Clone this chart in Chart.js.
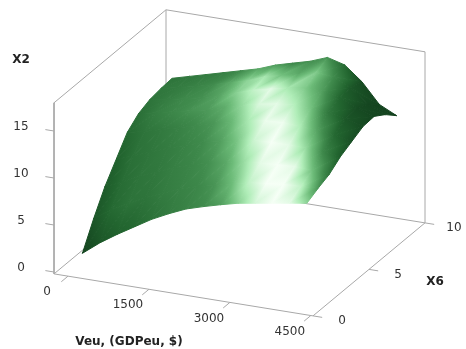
<!DOCTYPE html>
<html>
<head>
<meta charset="utf-8">
<style>
  html, body { margin: 0; background: #fff; }
  canvas { display: block; filter: blur(0.6px); }
</style>
<script src="https://cdn.jsdelivr.net/npm/chart.js@4"></script>
</head>
<body>
<canvas id="surface" width="466" height="349"></canvas>
<script>
// values
const veuGrid = [60, 380, 700, 1020, 1340, 1660, 1980, 2300, 2620, 2940, 3260, 3580, 3900, 4220];
const x6Grid = [1, 2, 3, 4, 5, 6, 7, 8, 9];
const x2Rows = [
  [1.3, 2.7, 3.9, 5.0, 6.1, 7.0, 7.8, 8.35, 8.85, 9.3, 9.6, 9.9, 10.2, 10.5],
  [4.0, 5.2, 6.2, 7.1, 7.9, 8.6, 9.2, 9.6, 10.1, 10.5, 10.7, 10.9, 11.0, 11.1],
  [6.4, 7.2, 8.1, 8.9, 9.6, 10.2, 10.7, 11.0, 11.4, 11.6, 11.7, 11.8, 11.7, 11.6],
  [8.3, 9.0, 9.7, 10.4, 11.0, 11.6, 12.0, 12.4, 12.7, 12.8, 12.8, 12.8, 12.7, 12.5],
  [10.2, 10.6, 11.1, 11.6, 12.1, 12.7, 13.1, 13.5, 13.8, 13.9, 13.8, 13.7, 13.5, 13.1],
  [11.2, 11.6, 12.0, 12.4, 12.8, 13.4, 13.9, 14.3, 14.6, 14.8, 14.8, 14.6, 14.2, 13.7],
  [11.7, 12.0, 12.4, 12.8, 13.3, 13.9, 14.5, 14.9, 15.3, 15.6, 15.6, 15.2, 14.4, 13.8],
  [11.9, 12.3, 12.7, 13.2, 13.7, 14.2, 14.9, 15.4, 15.9, 16.3, 16.1, 15.2, 13.8, 13.0],
  [12.0, 12.5, 13.0, 13.5, 14.0, 14.5, 15.2, 15.7, 16.2, 16.9, 16.4, 14.9, 12.8, 11.9]
];
const veuTicks = [0, 1500, 3000, 4500];
const x6Ticks = [0, 5, 10];
const x2Ticks = [0, 5, 10, 15];

// lighting of the surface at each grid vertex, 0 dark to 1 white, same layout as x2Rows
const shadeRows = [
  [.02, .12, .18, .22, .27, .32, .36, .40, .48, .68, .90, 1, .95, .70],
  [.12, .22, .27, .28, .32, .35, .38, .44, .60, .85, 1, 1, .85, .45],
  [.15, .24, .28, .30, .34, .37, .42, .52, .72, .95, 1, .95, .62, .28],
  [.18, .26, .29, .32, .36, .40, .48, .64, .88, 1, .95, .72, .38, .15],
  [.22, .28, .31, .35, .40, .45, .58, .78, .97, .98, .80, .50, .22, .08],
  [.25, .33, .38, .43, .46, .54, .72, .92, .95, .82, .62, .30, .12, .05],
  [.28, .33, .39, .42, .50, .68, .85, .95, .78, .66, .48, .20, .06, .03],
  [.30, .32, .36, .40, .52, .70, .78, .62, .52, .66, .40, .12, .03, .02],
  [.28, .30, .32, .34, .40, .52, .48, .38, .42, .44, .22, .06, .02, 0]
];

// box limits of the 3d plot
const veuMin = -260, veuMax = 4540, x6Min = 0, x6Max = 10, x2Min = -0.2, x2Max = 18;

// parallel projection onto the chart plane
function project(veu, x6, x2) {
  const a = (veu - veuMin) / (veuMax - veuMin);
  const b = (x6 - x6Min) / (x6Max - x6Min);
  return { x: 54 + 259 * a + 112 * b, y: 272 + 42 * a - 93 * b - 9.4 * x2 };
}

// colour ramp for the shading, dark green to almost white
const ramp = [[0, '#12401d'], [0.2, '#22652f'], [0.4, '#3f8a4c'], [0.6, '#6cbb78'], [0.8, '#b0edb8'], [1, '#f6fff6']];

function rampColour(s) {
  let best = ramp[0];
  ramp.forEach(stop => { if (Math.abs(stop[0] - s) < Math.abs(best[0] - s)) best = stop; });
  return best[1];
}

// gradient that gives the three shades at the three corners of a triangle
function triangleGradient(chart, pts, shades) {
  const sx = chart.scales.x, sy = chart.scales.y;
  if (!sx || !sy) return rampColour(shades[0]);
  const p = pts.map(q => ({ x: sx.getPixelForValue(q.x), y: sy.getPixelForValue(q.y) }));
  const ax = p[1].x - p[0].x, ay = p[1].y - p[0].y, bx = p[2].x - p[0].x, by = p[2].y - p[0].y;
  const ds1 = shades[1] - shades[0], ds2 = shades[2] - shades[0];
  const det = ax * by - ay * bx;
  const gx = (ds1 * by - ds2 * ay) / det, gy = (ds2 * ax - ds1 * bx) / det;
  const len2 = gx * gx + gy * gy;
  if (!(len2 > 1e-9) || !isFinite(len2)) return rampColour(shades[0]);
  const sx0 = p[0].x - gx * shades[0] / len2, sy0 = p[0].y - gy * shades[0] / len2;
  const grad = chart.ctx.createLinearGradient(sx0, sy0, sx0 + gx / len2, sy0 + gy / len2);
  ramp.forEach(stop => grad.addColorStop(stop[0], stop[1]));
  return grad;
}

function lineSet(pts, colour) {
  return { data: pts, showLine: true, borderColor: colour, borderWidth: 1, pointRadius: 0, fill: false, clip: false };
}

function triangleSet(a, b, c) {
  const pts = [a, b, c].map(v => project(veuGrid[v[1]], x6Grid[v[0]], x2Rows[v[0]][v[1]]));
  const shades = [a, b, c].map(v => shadeRows[v[0]][v[1]]);
  const paint = ctx => triangleGradient(ctx.chart, pts, shades);
  return {
    data: pts.concat([pts[0]]), showLine: true, fill: 'shape', pointRadius: 0, borderWidth: 1,
    backgroundColor: paint, borderColor: paint, clip: false
  };
}

// chart.js draws the first dataset on top, so nearest cells go first
const datasets = [];
for (let i = 0; i < x6Grid.length - 1; i++) {
  for (let j = veuGrid.length - 2; j >= 0; j--) {
    datasets.push(triangleSet([i, j], [i, j + 1], [i + 1, j + 1]));
    datasets.push(triangleSet([i, j], [i + 1, j + 1], [i + 1, j]));
  }
}

const boxColour = '#a8a8a8';
datasets.push(lineSet([
  project(veuMin, x6Min, x2Min), project(veuMax, x6Min, x2Min), project(veuMax, x6Max, x2Min),
  project(veuMax, x6Max, x2Max), project(veuMin, x6Max, x2Max), project(veuMin, x6Min, x2Max),
  project(veuMin, x6Min, x2Min), project(veuMin, x6Max, x2Min), project(veuMax, x6Max, x2Min)
], boxColour));
datasets.push(lineSet([project(veuMin, x6Max, x2Min), project(veuMin, x6Max, x2Max)], boxColour));

veuTicks.forEach(v => datasets.push(lineSet([project(v, x6Min, x2Min), project(v, x6Min - 0.6, x2Min)], boxColour)));
x6Ticks.forEach(v => datasets.push(lineSet([project(veuMax, v, x2Min), project(veuMax + 170, v, x2Min)], boxColour)));
x2Ticks.forEach(v => datasets.push(lineSet([project(veuMin, x6Min, v), project(veuMin - 160, x6Min, v)], boxColour)));

const axisText = {
  id: 'axisText',
  afterDraw(chart) {
    const c = chart.ctx, sx = chart.scales.x, sy = chart.scales.y;
    const put = (t, p, dx, dy) => c.fillText(t, sx.getPixelForValue(p.x) + dx, sy.getPixelForValue(p.y) + dy);
    c.save();
    c.textAlign = 'center';
    c.textBaseline = 'middle';
    c.fillStyle = '#333';
    c.font = '12px "DejaVu Sans"';
    veuTicks.forEach(v => put(String(v), project(v, x6Min, x2Min), -21, 16));
    x6Ticks.forEach(v => put(String(v), project(veuMax, v, x2Min), 29, 5));
    x2Ticks.forEach(v => c.fillText(String(v), 21, sy.getPixelForValue(project(veuMin, x6Min, v).y) - 4));
    c.fillStyle = '#222';
    c.font = 'bold 12px "DejaVu Sans"';
    c.fillText('X2', 21, 60);
    c.fillText('X6', 435, 282);
    c.fillText('Veu, (GDPeu, $)', 129, 342);
    c.restore();
  }
};

new Chart(document.getElementById('surface'), {
  type: 'scatter',
  data: { datasets: datasets },
  plugins: [axisText],
  options: {
    responsive: false,
    animation: false,
    events: [],
    layout: { padding: 0 },
    plugins: { legend: { display: false }, tooltip: { enabled: false } },
    scales: {
      x: { type: 'linear', min: 0, max: 466, display: false },
      y: { type: 'linear', min: 0, max: 349, reverse: true, display: false }
    }
  }
});
</script>
</body>
</html>
